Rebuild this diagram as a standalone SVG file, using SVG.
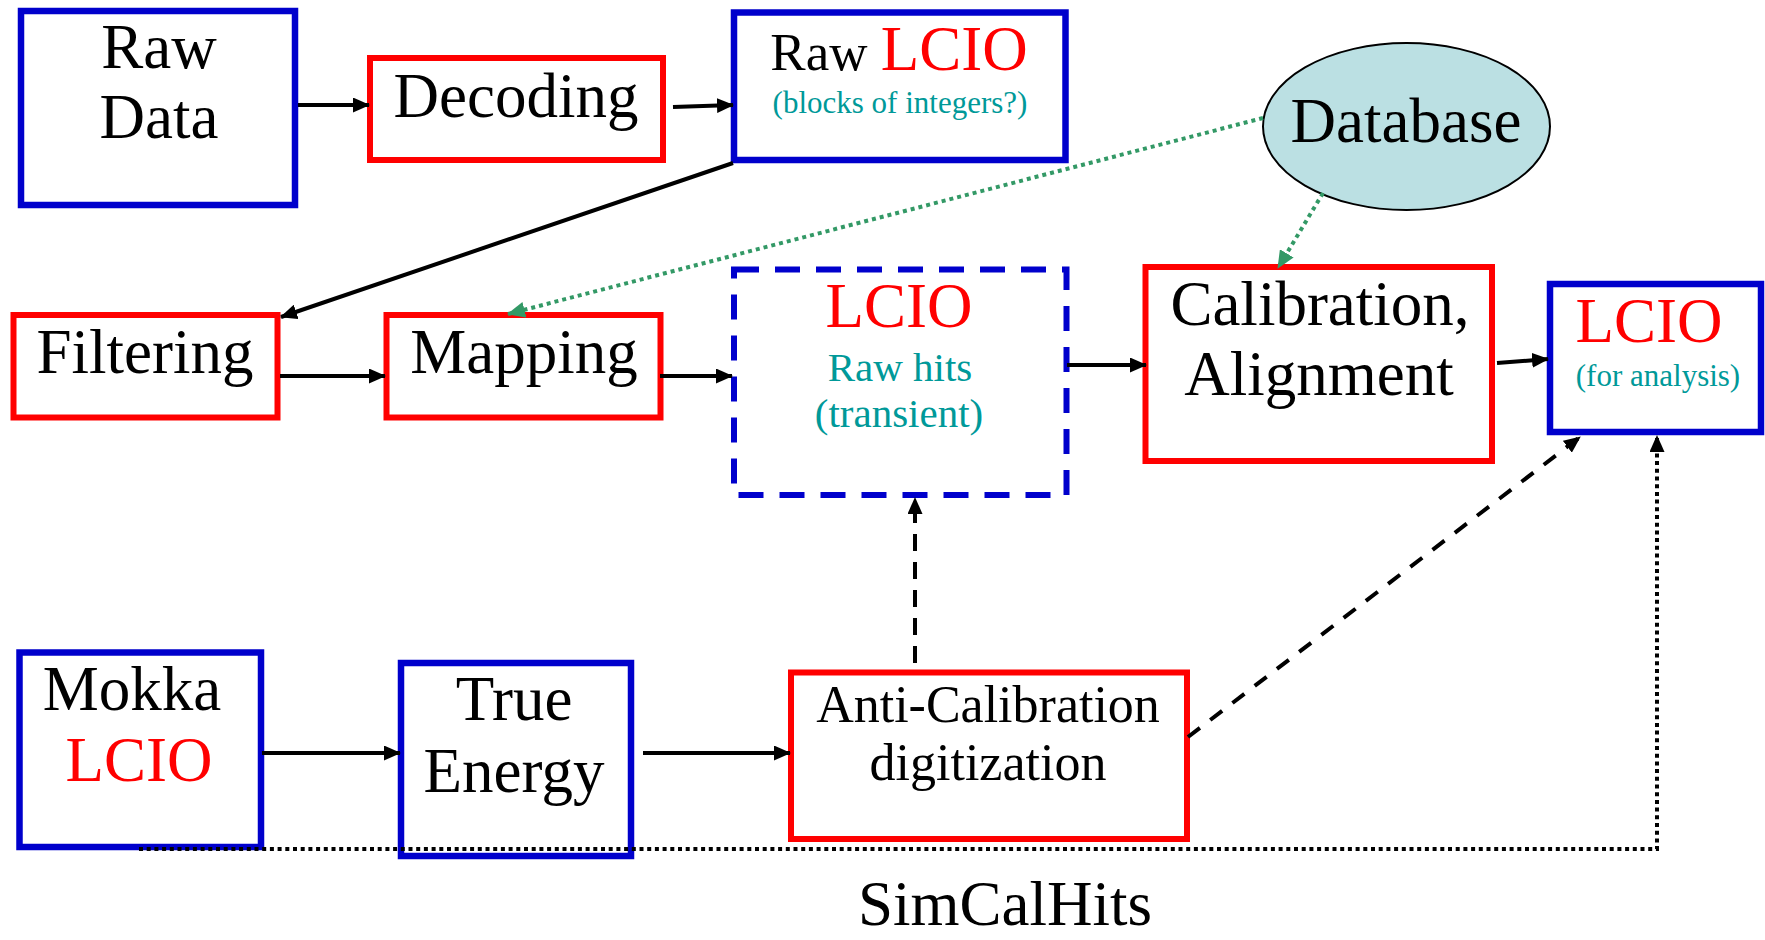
<svg xmlns="http://www.w3.org/2000/svg" width="1765" height="940" viewBox="0 0 1765 940">
  <style>
    text { font-family: "Liberation Serif", "Times New Roman", serif; fill: #000; text-anchor: middle; }
    .big { font-size: 63px; }
    .mid { font-size: 52px; }
    .sub { font-size: 41px; fill: #009999; }
    .small { font-size: 31px; fill: #009999; }
    .red { fill: #ff0000; }
    .blue { fill: #fff; stroke: #0000cc; stroke-width: 6.5; }
    .redbox { fill: #fff; stroke: #ff0000; stroke-width: 6; }
    .dashbox { fill: #fff; stroke: #0000cc; stroke-width: 6; stroke-dasharray: 25 16; }
    .db { fill: #bbe0e3; stroke: #000; stroke-width: 2; }
    .arrow { fill: none; stroke: #000; stroke-width: 4; marker-end: url(#head); }
    .dashed { fill: none; stroke: #000; stroke-width: 4; stroke-dasharray: 17 11; marker-end: url(#head); }
    .dashed2 { fill: none; stroke: #000; stroke-width: 4; stroke-dasharray: 15 13; marker-end: url(#head); }
    .dotted { fill: none; stroke: #000; stroke-width: 4; stroke-dasharray: 4 3.7; marker-end: url(#head); }
    .green { fill: none; stroke: #339966; stroke-width: 4; stroke-dasharray: 4 4; marker-end: url(#ghead); }
  </style>
  <defs>
    <marker id="head" markerUnits="userSpaceOnUse" markerWidth="17" markerHeight="15" refX="16" refY="7.5" orient="auto">
      <path d="M0,0 L17,7.5 L0,15 Z" fill="#000"/>
    </marker>
    <marker id="ghead" markerUnits="userSpaceOnUse" markerWidth="18" markerHeight="16" refX="17" refY="8" orient="auto">
      <path d="M0,0 L18,8 L0,16 Z" fill="#339966"/>
    </marker>
  </defs>

  <rect width="1765" height="940" fill="#fff"/>

  <g id="raw-data">
    <rect class="blue" x="21" y="11" width="274" height="194"/>
    <text class="big" x="159" y="68">Raw</text>
    <text class="big" x="159" y="138">Data</text>
  </g>

  <g id="decoding">
    <rect class="redbox" x="370" y="58" width="293" height="102"/>
    <text class="big" x="516" y="117">Decoding</text>
  </g>

  <g id="raw-lcio">
    <rect class="blue" x="734" y="12.5" width="331.5" height="147.5"/>
    <text x="899" y="70"><tspan style="font-size:53px">Raw </tspan><tspan class="red" style="font-size:63px">LCIO</tspan></text>
    <text class="small" x="900" y="113">(blocks of integers?)</text>
  </g>

  <g id="database">
    <ellipse class="db" cx="1406.5" cy="126.5" rx="143.5" ry="83.5"/>
    <text class="big" x="1406" y="142">Database</text>
  </g>

  <g id="filtering">
    <rect class="redbox" x="13.5" y="315" width="264" height="102.5"/>
    <text class="big" x="145" y="373">Filtering</text>
  </g>

  <g id="mapping">
    <rect class="redbox" x="386.5" y="315" width="274" height="102.5"/>
    <text class="big" x="524" y="373">Mapping</text>
  </g>

  <g id="lcio-raw-hits">
    <rect class="dashbox" x="734" y="269.5" width="332.5" height="225.5"/>
    <text class="big red" x="899" y="327">LCIO</text>
    <text class="sub" x="900" y="381">Raw hits</text>
    <text class="sub" x="899" y="427">(transient)</text>
  </g>

  <g id="calibration">
    <rect class="redbox" x="1145.5" y="267" width="346.5" height="194"/>
    <text class="big" x="1320" y="325">Calibration,</text>
    <text class="big" x="1319" y="395">Alignment</text>
  </g>

  <g id="lcio-analysis">
    <rect class="blue" x="1550" y="284" width="211" height="148"/>
    <text class="big red" x="1649" y="342">LCIO</text>
    <text class="small" x="1658" y="386">(for analysis)</text>
  </g>

  <g id="mokka">
    <rect class="blue" x="19.5" y="652.5" width="241.5" height="194.5"/>
    <text class="big" x="132" y="710">Mokka</text>
    <text class="big red" x="139" y="781">LCIO</text>
  </g>

  <g id="true-energy">
    <rect class="blue" x="401" y="663" width="230" height="193"/>
    <text class="big" x="514" y="720">True</text>
    <text class="big" x="514" y="792">Energy</text>
  </g>

  <g id="anti-calibration">
    <rect class="redbox" x="791" y="672.5" width="396" height="166.5"/>
    <text class="mid" x="988" y="722">Anti-Calibration</text>
    <text class="mid" x="988" y="780">digitization</text>
  </g>

  <g id="simcalhits-label">
    <text class="big" x="1005" y="925">SimCalHits</text>
  </g>

  <g id="connectors">
    <line class="arrow" x1="298" y1="105" x2="369" y2="105"/>
    <line class="arrow" x1="673" y1="107" x2="733" y2="105"/>
    <line class="arrow" x1="733" y1="163" x2="281" y2="317"/>
    <line class="arrow" x1="280" y1="376" x2="385" y2="376"/>
    <line class="arrow" x1="660" y1="376" x2="732" y2="376"/>
    <line class="arrow" x1="1067" y1="365" x2="1146" y2="365"/>
    <line class="arrow" x1="1497" y1="363" x2="1548" y2="359"/>
    <line class="arrow" x1="262" y1="753" x2="400" y2="753"/>
    <line class="arrow" x1="643" y1="753" x2="790" y2="753"/>
    <line class="green" x1="1263" y1="118" x2="508" y2="314"/>
    <line class="green" x1="1323" y1="193" x2="1278" y2="268"/>
    <line class="dashed" x1="915" y1="663" x2="915" y2="498"/>
    <line class="dashed2" x1="1188" y1="737" x2="1580" y2="437"/>
    <polyline class="dotted" points="139,849 1657,849 1657,436"/>
  </g>
</svg>
